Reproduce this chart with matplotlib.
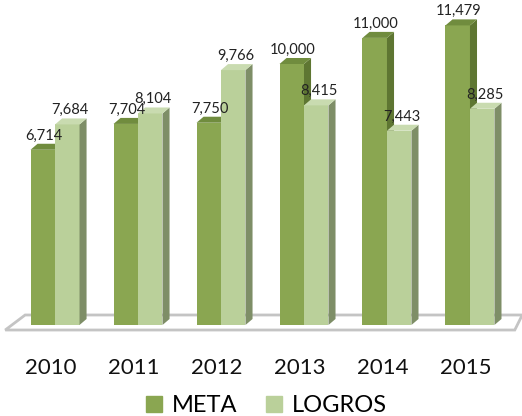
import numpy as np
import matplotlib.pyplot as plt
from matplotlib.patches import Polygon

years = ['2010', '2011', '2012', '2013', '2014', '2015']
meta = [6714, 7704, 7750, 10000, 11000, 11479]
logros = [7684, 8104, 9766, 8415, 7443, 8285]

plt.rcParams['font.family'] = ['Lato', 'DejaVu Sans']

fig = plt.figure(figsize=(5.22, 4.16), dpi=100)
ax = fig.add_axes([0, 0, 1, 1])
ax.set_xlim(-0.663, 5.627)
ax.set_ylim(-3487, 12452)
ax.axis('off')

w = 0.295
dx, dy = 0.085, 230
x = np.arange(len(years))

# floor
floor = Polygon([(-0.60, -192), (5.54, -192), (5.63, 383), (-0.36, 383)],
                closed=True, facecolor='white', edgecolor='#c4c4c4', lw=2, zorder=1)
ax.add_patch(floor)


def bar3d(left, h, front, top, side):
    ax.bar(left, h, width=w, align='edge', color=front, zorder=3)
    ax.add_patch(Polygon([(left + w, 0), (left + w + dx, dy), (left + w + dx, h + dy), (left + w, h)],
                         closed=True, facecolor=side, edgecolor='none', zorder=3))
    ax.add_patch(Polygon([(left, h), (left + w, h), (left + w + dx, h + dy), (left + dx, h + dy)],
                         closed=True, facecolor=top, edgecolor='none', zorder=3))


for i in range(len(years)):
    bar3d(x[i] - w, meta[i], '#8aa651', '#708c3e', '#5e7632')
    bar3d(x[i], logros[i], '#bad09a', '#c9dbb0', '#7e8e67')
    ax.text(x[i] - w / 2 + 0.01, meta[i] + dy + 50, f'{meta[i]:,}', ha='center', va='bottom',
            fontsize=10.5, color='#222222', zorder=5)
    ax.text(x[i] + w / 2 + 0.03, logros[i] + dy + 50, f'{logros[i]:,}', ha='center', va='bottom',
            fontsize=10.5, color='#222222', zorder=5)
    ax.text(x[i] - 0.05, -1650, years[i], ha='center', va='center', fontsize=16, color='#111111')

h1 = plt.Rectangle((0, 0), 1, 1, color='#8aa651')
h2 = plt.Rectangle((0, 0), 1, 1, color='#bad09a')
fig.legend([h1, h2], ['META', 'LOGROS'], loc='center', bbox_to_anchor=(0.51, 0.025), ncol=2,
           frameon=False, fontsize=17, handlelength=0.7, handleheight=0.7,
           handletextpad=0.4, columnspacing=1.2)

fig.savefig('out.png', dpi=100)
